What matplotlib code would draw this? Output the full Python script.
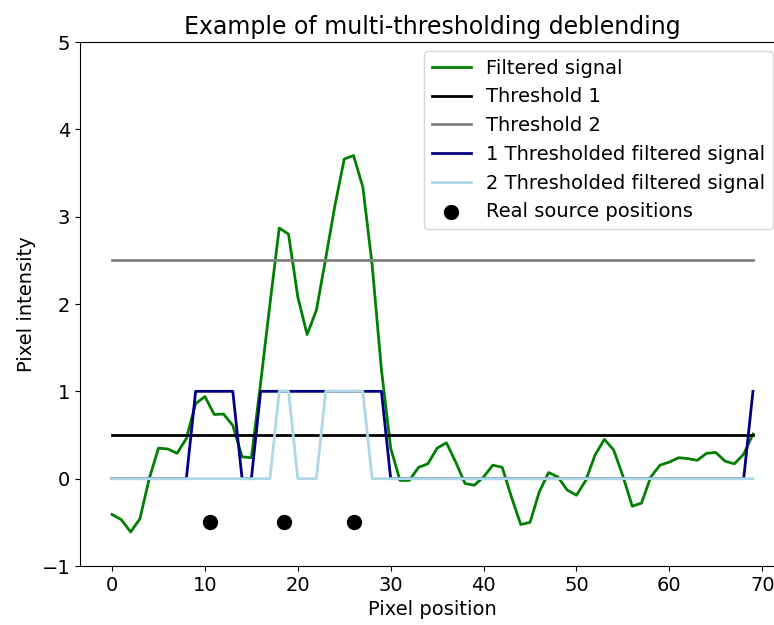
import matplotlib
matplotlib.use('Agg')
import matplotlib.pyplot as plt
import numpy as np

# filtered signal, one value per pixel
signal = [-0.41, -0.47, -0.61, -0.46, 0.0, 0.35, 0.34, 0.29, 0.46, 0.86,
          0.94, 0.735, 0.74, 0.61, 0.25, 0.24, 1.1, 2.0, 2.87, 2.80,
          2.08, 1.65, 1.93, 2.52, 3.13, 3.66, 3.70, 3.34, 2.45, 1.25,
          0.35, -0.02, -0.02, 0.13, 0.17, 0.35, 0.41, 0.19, -0.055, -0.075,
          0.02, 0.155, 0.13, -0.21, -0.525, -0.50, -0.15, 0.07, 0.02, -0.13,
          -0.19, -0.02, 0.27, 0.45, 0.33, 0.03, -0.315, -0.28, 0.02, 0.155,
          0.19, 0.24, 0.23, 0.21, 0.29, 0.30, 0.20, 0.17, 0.28, 0.51]
threshold1 = 0.5
threshold2 = 2.5
sources_x = [10.5, 18.5, 26]
sources_y = [-0.5, -0.5, -0.5]

signal = np.array(signal)
pix = np.arange(len(signal))
thr1_signal = (signal > threshold1).astype(float)
thr2_signal = (signal > threshold2).astype(float)

plt.rcParams['font.size'] = 14

fig = plt.figure(figsize=(7.74, 6.25), dpi=100)
# axes runs a bit past the right edge of the figure, as in the reference
ax = fig.add_axes([80 / 774, 1 - 566 / 625, 705 / 774, 524 / 625])

ax.plot(pix, signal, color='green', lw=2, label='Filtered signal')
ax.plot(pix, np.full(len(pix), threshold1), color='black', lw=2, label='Threshold 1')
ax.plot(pix, np.full(len(pix), threshold2), color='grey', lw=2, label='Threshold 2')
ax.plot(pix, thr1_signal, color='navy', lw=2, label='1 Thresholded filtered signal')
ax.plot(pix, thr2_signal, color='lightblue', lw=2, label='2 Thresholded filtered signal')
ax.scatter(sources_x, sources_y, color='black', s=100, zorder=3, label='Real source positions')

ax.set_ylim(-1, 5)
ax.set_xlim(-3.45, 72.45)
ax.set_title('Example of multi-thresholding deblending', fontsize=17)
ax.set_xlabel('Pixel position')
ax.set_ylabel('Pixel intensity')

ax.legend(loc='upper right', bbox_to_anchor=(773 / 774, 1 - 51 / 625),
          bbox_transform=fig.transFigure, borderaxespad=0, fontsize=14)

fig.savefig('out.png', dpi=100)
